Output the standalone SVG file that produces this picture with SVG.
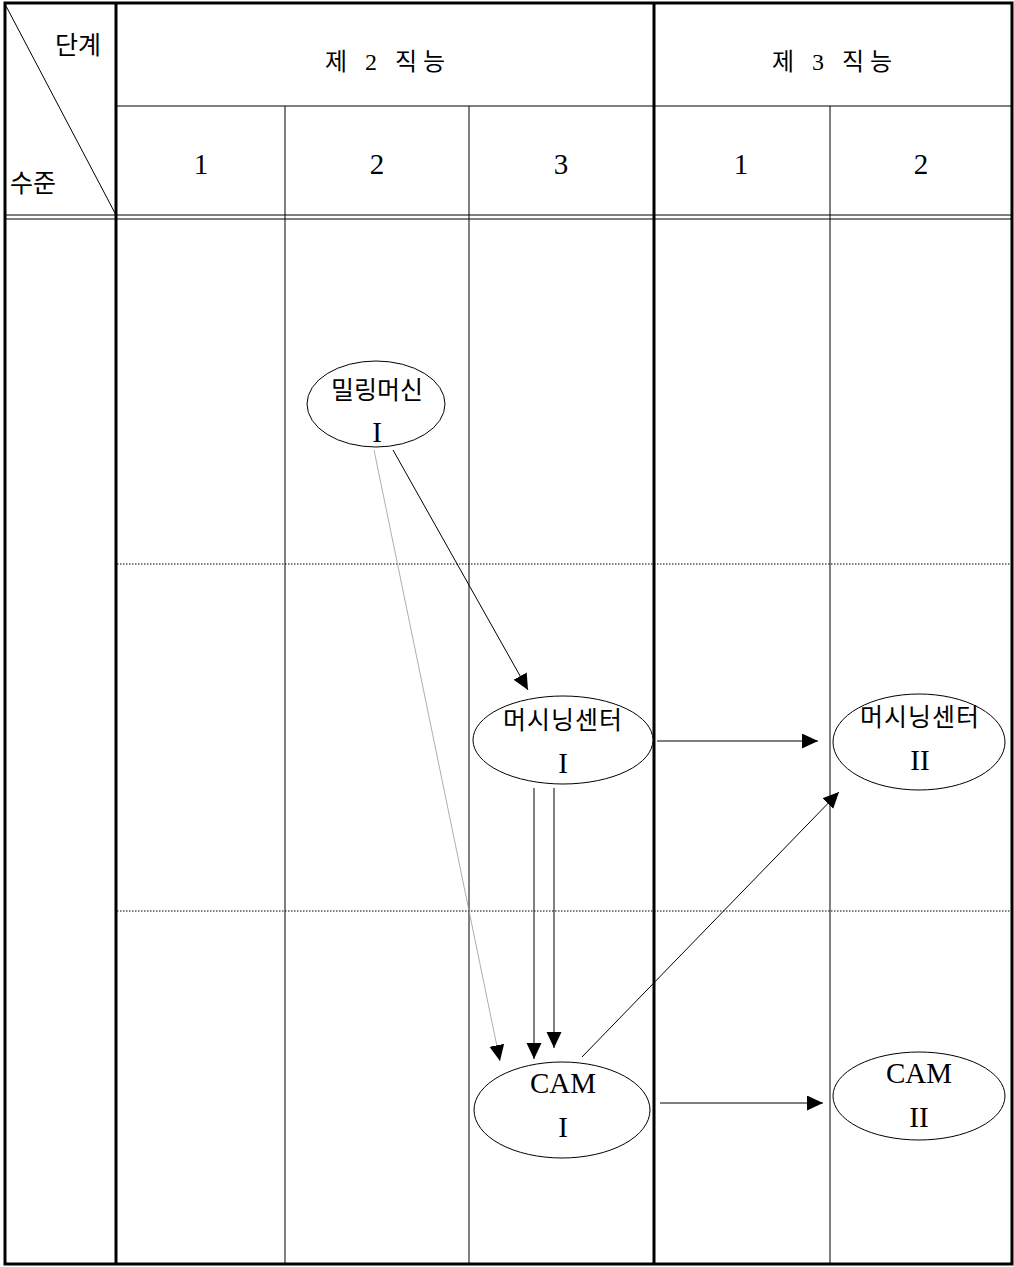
<svg xmlns="http://www.w3.org/2000/svg" width="1014" height="1267" viewBox="0 0 1014 1267">
<style>
.t{font-family:"Liberation Serif","Noto Sans CJK KR",serif;font-size:25px;fill:#000;text-anchor:middle;dominant-baseline:central}
.n{font-size:29px}
.h{font-size:24px;letter-spacing:6px}
.w{letter-spacing:1px}
.thin{stroke:#000;stroke-width:1;fill:none}
.thick{stroke:#000;stroke-width:3;fill:none}
.dot{stroke:#000;stroke-width:1;stroke-dasharray:1.5 1.5;fill:none}
.node{fill:#fff;stroke:#000;stroke-width:1}
.c{stroke:#000;stroke-width:1;fill:none;marker-end:url(#ah)}
</style>
<defs>
<marker id="ah" markerUnits="userSpaceOnUse" markerWidth="18" markerHeight="16" refX="16" refY="7.5" orient="auto">
<path d="M0,0 L16,7.5 L0,15 Z" fill="#000"/>
</marker>
</defs>
<rect width="1014" height="1267" fill="#fff"/>
<g id="table">
<line class="thin" x1="116" y1="106" x2="1012" y2="106"/>
<line class="thin" x1="5" y1="215" x2="1012" y2="215"/>
<line class="thin" x1="5" y1="219" x2="1012" y2="219"/>
<line class="thin" x1="285" y1="106" x2="285" y2="1265"/>
<line class="thin" x1="469" y1="106" x2="469" y2="1265"/>
<line class="thin" x1="830" y1="106" x2="830" y2="1265"/>
<line class="dot" x1="117" y1="564" x2="1012" y2="564"/>
<line class="dot" x1="117" y1="911" x2="1012" y2="911"/>
<line class="thick" x1="116" y1="3" x2="116" y2="1265"/>
<line class="thick" x1="654" y1="3" x2="654" y2="1265"/>
<line class="thin" x1="6" y1="6" x2="116" y2="215"/>
<rect class="thick" x="5" y="3" width="1007" height="1261"/>
<text class="t" x="78" y="45">단계</text>
<text class="t" x="33" y="183">수준</text>
<text class="t h" x="388" y="62" xml:space="preserve">제 2 직능</text>
<text class="t h" x="835" y="62" xml:space="preserve">제 3 직능</text>
<text class="t n" x="201" y="164">1</text>
<text class="t n" x="377" y="164">2</text>
<text class="t n" x="561" y="164">3</text>
<text class="t n" x="741" y="164">1</text>
<text class="t n" x="921" y="164">2</text>
</g>
<g id="connectors">
<line class="c" x1="393" y1="450" x2="528" y2="690"/>
<line class="c" x1="374" y1="450" x2="500" y2="1061" style="stroke:#999;stroke-width:0.8"/>
<line class="c" x1="534" y1="788" x2="534" y2="1059"/>
<line class="c" x1="554" y1="788" x2="554" y2="1048"/>
<line class="c" x1="657" y1="741" x2="818" y2="741"/>
<line class="c" x1="582" y1="1057" x2="839" y2="792"/>
<line class="c" x1="660" y1="1103" x2="823" y2="1103"/>
</g>
<g id="n-milling1">
<ellipse class="node" cx="376" cy="404" rx="69" ry="43"/>
<text class="t" x="377" y="390">밀링머신</text>
<text class="t n" x="377" y="432">I</text>
</g>
<g id="n-mc1">
<ellipse class="node" cx="563" cy="740" rx="90" ry="44"/>
<text class="t w" x="563" y="720">머시닝센터</text>
<text class="t n" x="563" y="763">I</text>
</g>
<g id="n-mc2">
<ellipse class="node" cx="919" cy="742" rx="86" ry="48"/>
<text class="t w" x="920" y="717">머시닝센터</text>
<text class="t n" x="920" y="760">II</text>
</g>
<g id="n-cam1">
<ellipse class="node" cx="562" cy="1110" rx="88" ry="48"/>
<text class="t n" x="563" y="1083">CAM</text>
<text class="t n" x="563" y="1127">I</text>
</g>
<g id="n-cam2">
<ellipse class="node" cx="919" cy="1096" rx="86" ry="44"/>
<text class="t n" x="919" y="1073">CAM</text>
<text class="t n" x="919" y="1117">II</text>
</g>
</svg>
